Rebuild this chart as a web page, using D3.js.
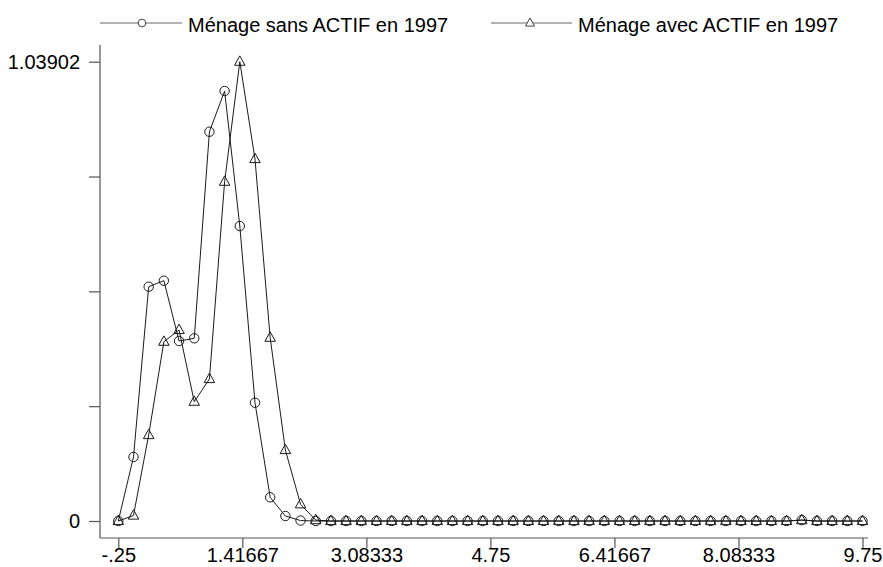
<!DOCTYPE html>
<html>
<head>
<meta charset="utf-8">
<script src="https://cdn.jsdelivr.net/npm/d3@7"></script>
<style>
  html, body { margin: 0; padding: 0; background: #fff; }
  svg { display: block; font-family: "Liberation Sans", Arial, Helvetica, sans-serif; }
</style>
</head>
<body>
<svg id="chart" width="883" height="567"></svg>
<script>
// ---- data ----
const xValues = [-0.25, -0.0459, 0.1582, 0.3622, 0.5663, 0.7704, 0.9745, 1.1786, 1.3827, 1.5867,
  1.7908, 1.9949, 2.199, 2.4031, 2.6071, 2.8112, 3.0153, 3.2194, 3.4235, 3.6276,
  3.8316, 4.0357, 4.2398, 4.4439, 4.648, 4.852, 5.0561, 5.2602, 5.4643, 5.6684,
  5.8724, 6.0765, 6.2806, 6.4847, 6.6888, 6.8929, 7.0969, 7.301, 7.5051, 7.7092,
  7.9133, 8.1173, 8.3214, 8.5255, 8.7296, 8.9337, 9.1378, 9.3418, 9.5459, 9.75];
const sansActif = [0, 0.1448, 0.530, 0.5436, 0.4072, 0.4133, 0.8806, 0.9727, 0.6673, 0.2676,
  0.0536, 0.0113, 0.001, 0, 0, 0, 0, 0, 0, 0,
  0, 0, 0, 0, 0, 0, 0, 0, 0, 0,
  0, 0, 0, 0, 0, 0, 0, 0, 0, 0,
  0, 0, 0, 0, 0, 0.002, 0, 0, 0, 0];
const avecActif = [0, 0.0124, 0.1945, 0.4056, 0.4321, 0.2699, 0.3212, 0.7675, 1.03902, 0.8189,
  0.4146, 0.1606, 0.0378, 0.002, 0, 0, 0, 0, 0, 0,
  0, 0, 0, 0, 0, 0, 0, 0, 0, 0,
  0, 0, 0, 0, 0, 0, 0, 0, 0, 0,
  0, 0, 0, 0, 0, 0.002, 0, 0, 0, 0];
const seriesNames = ["Ménage sans ACTIF en 1997", "Ménage avec ACTIF en 1997"];
const xTicks = [-0.25, 1.41667, 3.08333, 4.75, 6.41667, 8.08333, 9.75];
const xTickLabels = ["-.25", "1.41667", "3.08333", "4.75", "6.41667", "8.08333", "9.75"];
const yTicks = [0, 0.259755, 0.51951, 0.779265, 1.03902];
const yTickLabels = ["0", "", "", "", "1.03902"];

// ---- chart ----
const svg = d3.select("#chart");
const lineColor = "#1a1a1a";
const axisColor = "#555";
const fontSize = 20;
const fontFamily = '"Liberation Sans", Arial, Helvetica, sans-serif';

const x = d3.scaleLinear().domain([-0.25, 9.75]).range([118.3, 862.5]);
const y = d3.scaleLinear().domain([0, 1.03902]).range([521, 61.7]);

const axisX0 = 100, axisX1 = 868, axisY0 = 45, axisY1 = 538;

// x axis
const xAxis = d3.axisBottom(x)
  .tickValues(xTicks)
  .tickFormat((d, i) => xTickLabels[i])
  .tickSize(10)
  .tickSizeOuter(0)
  .tickPadding(0);
const gx = svg.append("g").attr("transform", `translate(0,${axisY1})`).call(xAxis);
gx.select(".domain").remove();
gx.append("line").attr("x1", axisX0).attr("x2", axisX1).attr("y1", 0).attr("y2", 0)
  .attr("stroke", axisColor).attr("stroke-width", 1.2);
gx.selectAll(".tick line").attr("stroke", axisColor).attr("stroke-width", 1.2);
gx.selectAll(".tick text").attr("fill", "#000").attr("dy", "0.68em")
  .style("font-size", fontSize + "px").style("font-family", fontFamily);

// y axis
const yAxis = d3.axisLeft(y)
  .tickValues(yTicks)
  .tickFormat((d, i) => yTickLabels[i])
  .tickSize(11)
  .tickSizeOuter(0)
  .tickPadding(9);
const gy = svg.append("g").attr("transform", `translate(${axisX0},0)`).call(yAxis);
gy.select(".domain").remove();
gy.append("line").attr("x1", 0).attr("x2", 0).attr("y1", axisY0).attr("y2", axisY1)
  .attr("stroke", axisColor).attr("stroke-width", 1.2);
gy.selectAll(".tick line").attr("stroke", axisColor).attr("stroke-width", 1.2);
gy.selectAll(".tick text").attr("fill", "#000")
  .style("font-size", fontSize + "px").style("font-family", fontFamily);

// lines
const pts = (vals) => vals.map((v, i) => [xValues[i], v]);
const line = d3.line().x(d => x(d[0])).y(d => y(d[1]));

function triPath(cx, cy, s) {
  const h = s * 0.9;
  return `M${cx},${cy - h * 0.62}L${cx + s / 2},${cy + h * 0.38}L${cx - s / 2},${cy + h * 0.38}Z`;
}

const series = [
  { name: seriesNames[0], values: sansActif, marker: "circle" },
  { name: seriesNames[1], values: avecActif, marker: "triangle" }
];

series.forEach(s => {
  svg.append("path").datum(pts(s.values)).attr("d", line)
    .attr("fill", "none").attr("stroke", lineColor).attr("stroke-width", 1);
});

series.forEach(s => {
  const g = svg.append("g");
  if (s.marker === "circle") {
    g.selectAll("circle").data(pts(s.values)).join("circle")
      .attr("cx", d => x(d[0])).attr("cy", d => y(d[1])).attr("r", 4.7)
      .attr("fill", "none").attr("stroke", lineColor).attr("stroke-width", 1);
  } else {
    g.selectAll("path").data(pts(s.values)).join("path")
      .attr("d", d => triPath(x(d[0]), y(d[1]), 10.5))
      .attr("fill", "none").attr("stroke", lineColor).attr("stroke-width", 1);
  }
});

// legend
const legendItems = [
  { name: seriesNames[0], marker: "circle", x1: 100, x2: 182, mx: 142, tx: 188 },
  { name: seriesNames[1], marker: "triangle", x1: 491, x2: 572, mx: 530, tx: 578 }
];
const ly = 23;
legendItems.forEach(it => {
  svg.append("line").attr("x1", it.x1).attr("x2", it.x2).attr("y1", ly).attr("y2", ly)
    .attr("stroke", "#666").attr("stroke-width", 1);
  if (it.marker === "circle") {
    svg.append("circle").attr("cx", it.mx).attr("cy", ly).attr("r", 3.8)
      .attr("fill", "#fff").attr("stroke", "#444").attr("stroke-width", 1);
  } else {
    svg.append("path").attr("d", triPath(it.mx, ly, 9))
      .attr("fill", "#fff").attr("stroke", "#444").attr("stroke-width", 1);
  }
  svg.append("text").attr("x", it.tx).attr("y", ly + 4).attr("dy", "0.25em")
    .style("font-size", fontSize + "px").style("font-family", fontFamily)
    .attr("fill", "#000").text(it.name);
});
</script>
</body>
</html>
